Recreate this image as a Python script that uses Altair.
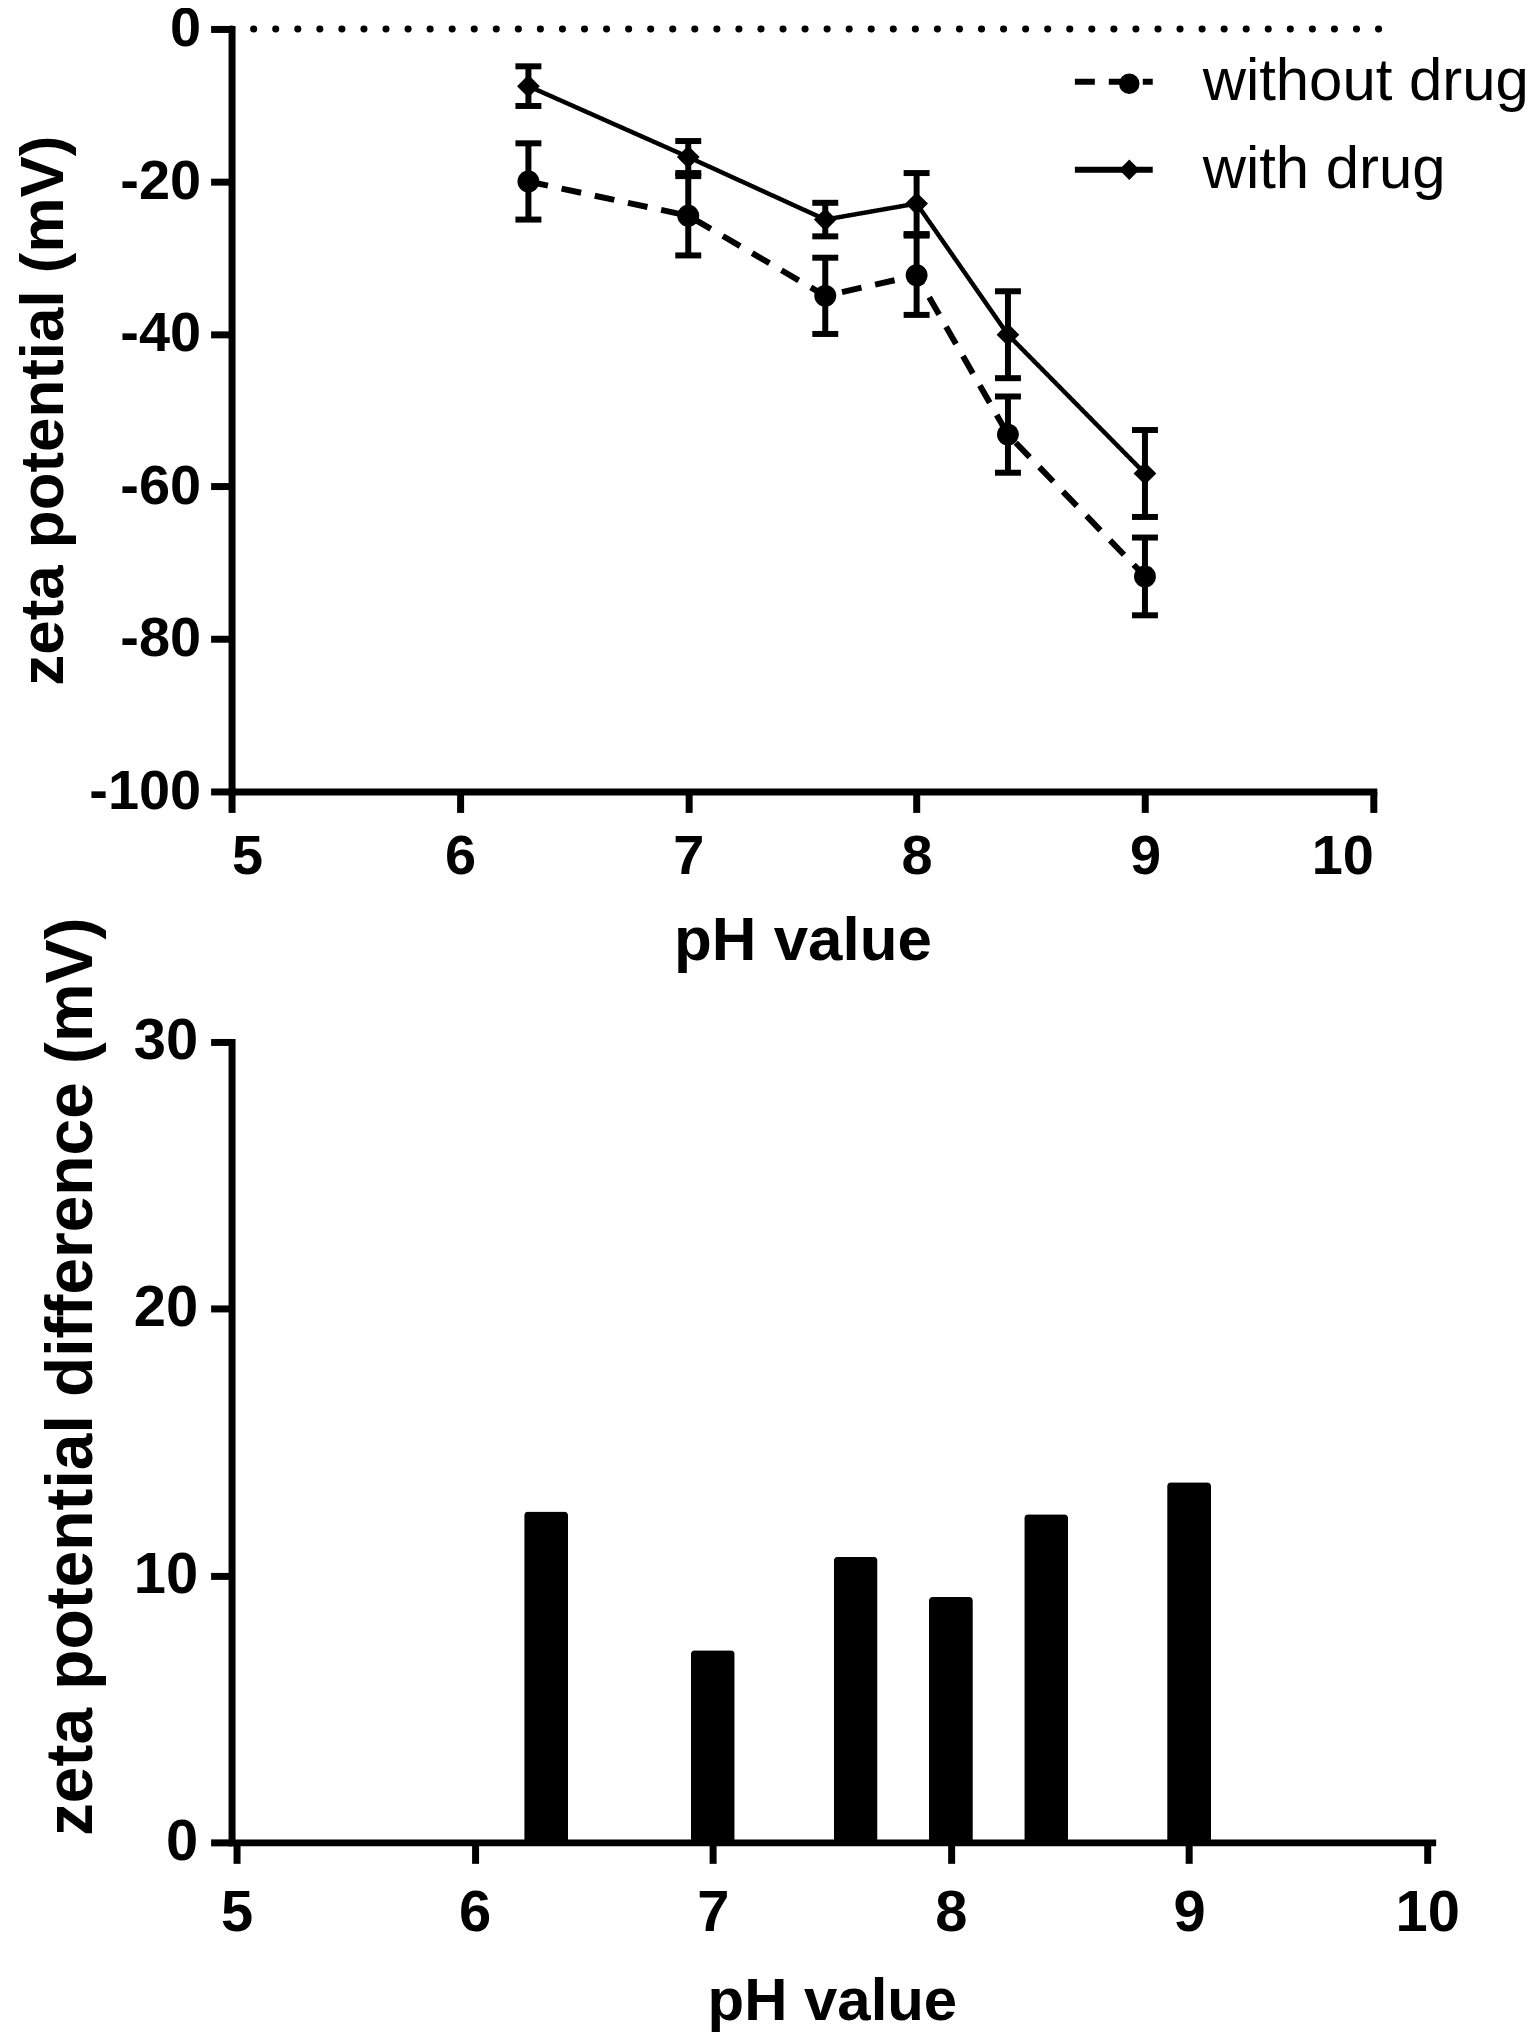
import altair as alt
import pandas as pd

# ---- data ----
ph = [6.3, 7.0, 7.6, 8.0, 8.4, 9.0]
without_drug = [-20.0, -24.5, -35.0, -32.3, -53.2, -71.8]
without_err = [5.0, 5.2, 5.0, 5.2, 5.0, 5.1]
with_drug = [-7.5, -16.8, -25.0, -22.9, -40.1, -58.3]
with_err = [2.6, 2.1, 2.2, 4.0, 5.7, 5.7]
difference = [12.4, 7.2, 10.7, 9.2, 12.3, 13.5]
series_names = ["without drug", "with drug"]
x_ticks = [5, 6, 7, 8, 9, 10]
top_y_ticks = [0, -20, -40, -60, -80, -100]
bottom_y_ticks = [0, 10, 20, 30]
zero_line_x = [5, 10.06]

rows = []
for name, vals, errs in [(series_names[0], without_drug, without_err),
                         (series_names[1], with_drug, with_err)]:
    for p, v, e in zip(ph, vals, errs):
        rows.append({"ph": p, "zeta": v, "lo": v - e, "hi": v + e,
                     "series": name, "series_m": name})
df = pd.DataFrame(rows)
df_bar = pd.DataFrame({"ph": ph, "diff": difference})
df_zero = pd.DataFrame({"x": [zero_line_x[0]], "x2": [zero_line_x[1]], "y": [0]})

FONT = "Liberation Sans"
HYPHEN = "'' + datum.value"

top_x = alt.X("ph:Q", scale=alt.Scale(domain=[5, 10], nice=False),
              axis=alt.Axis(title="pH value", values=x_ticks, format="d",
                            labelFontSize=56, labelFontWeight="bold",
                            titleFontSize=62, titleFontWeight="bold",
                            labelPadding=17, titlePadding=26))
top_y = alt.Y("zeta:Q", scale=alt.Scale(domain=[-100, 0], nice=False),
              axis=alt.Axis(title="zeta potential (mV)", values=top_y_ticks,
                            labelExpr=HYPHEN,
                            labelFontSize=56, labelFontWeight="bold",
                            titleFontSize=62, titleFontWeight="bold",
                            labelPadding=10, titlePadding=13))

zero = alt.Chart(df_zero).mark_rule(
    color="black", strokeWidth=7, strokeDash=[0.1, 22], strokeCap="round"
).encode(
    x=alt.X("x:Q", scale=alt.Scale(domain=[5, 10], nice=False)),
    x2="x2:Q",
    y=alt.Y("y:Q"),
)

# line legend (dash pattern + label)
dash_enc = alt.StrokeDash(
    "series:N",
    scale=alt.Scale(domain=series_names, range=[[20, 14], [1, 0]]),
    legend=alt.Legend(title=None, orient="none", legendX=842, legendY=11,
                      symbolType="stroke", symbolSize=6084,
                      symbolStrokeWidth=6, symbolStrokeColor="black",
                      labelFont=FONT, labelFontSize=60,
                      labelFontWeight="normal", labelOffset=47,
                      labelLimit=600, rowPadding=16, padding=0),
)
# marker legend (symbols only, laid over the line legend)
shape_domain = series_names[::-1]
shape_enc = alt.Shape(
    "series_m:N",
    scale=alt.Scale(domain=shape_domain, range=["diamond", "circle"]),
    legend=alt.Legend(title=None, orient="none", legendX=869.5, legendY=25,
                      values=series_names, labelExpr="''",
                      symbolSize=420, symbolFillColor="black",
                      symbolStrokeColor="black", symbolStrokeWidth=0,
                      labelOpacity=0, labelFont=FONT, labelFontSize=60,
                      rowPadding=26, padding=0),
)

base = alt.Chart(df)
line_without = base.transform_filter(alt.datum.series == series_names[0]).mark_line(
    color="black", strokeWidth=6).encode(x=top_x, y=top_y, strokeDash=dash_enc)
line_with = base.transform_filter(alt.datum.series == series_names[1]).mark_line(
    color="black", strokeWidth=4.5).encode(x="ph:Q", y="zeta:Q", strokeDash=dash_enc)

err_rule = base.mark_rule(color="black", strokeWidth=6).encode(
    x="ph:Q", y="lo:Q", y2="hi:Q")
err_lo = base.mark_tick(color="black", size=26, thickness=6,
                        orient="horizontal", opacity=1).encode(x="ph:Q", y="lo:Q")
err_hi = base.mark_tick(color="black", size=26, thickness=6,
                        orient="horizontal", opacity=1).encode(x="ph:Q", y="hi:Q")

pts_without = base.transform_filter(alt.datum.series == series_names[0]).mark_point(
    filled=True, color="black", opacity=1, size=480).encode(
    x="ph:Q", y="zeta:Q", shape=shape_enc)
pts_with = base.transform_filter(alt.datum.series == series_names[1]).mark_point(
    filled=True, color="black", opacity=1, size=520).encode(
    x="ph:Q", y="zeta:Q", shape=shape_enc)

top = alt.layer(line_without, line_with, zero, err_rule, err_lo, err_hi,
                pts_without, pts_with).properties(width=1144, height=764)

bars = alt.Chart(df_bar).mark_bar(
    color="black", size=44, cornerRadiusTopLeft=4, cornerRadiusTopRight=4
).encode(
    x=alt.X("ph:Q", scale=alt.Scale(domain=[5, 10], nice=False),
            axis=alt.Axis(title="pH value", values=x_ticks, format="d",
                          labelFontSize=58, labelFontWeight="bold",
                          titleFontSize=60, titleFontWeight="bold",
                          labelPadding=21, titlePadding=30)),
    y=alt.Y("diff:Q", scale=alt.Scale(domain=[0, 30], nice=False),
            axis=alt.Axis(title="zeta potential difference  (mV)",
                          values=bottom_y_ticks,
                          labelFontSize=58, labelFontWeight="bold",
                          titleFontSize=66, titleFontWeight="bold",
                          titleY=335,
                          labelPadding=13, titlePadding=28)),
).properties(width=1203, height=802)

chart = alt.vconcat(top, bars, spacing=251, bounds="flush").resolve_scale(
    x="independent", y="independent", strokeDash="independent",
    shape="independent"
).properties(
    padding={"left": 4, "top": -9, "right": 0, "bottom": 0}
).configure_view(stroke=None).configure_axis(
    grid=False, domainColor="black", tickColor="black", labelColor="black",
    titleColor="black", domainWidth=7, tickWidth=7, tickSize=21,
    labelFont=FONT, titleFont=FONT, domainCap="square"
).configure_legend(labelColor="black")

chart.save("out.html", embed_options={"renderer": "svg", "actions": False})
